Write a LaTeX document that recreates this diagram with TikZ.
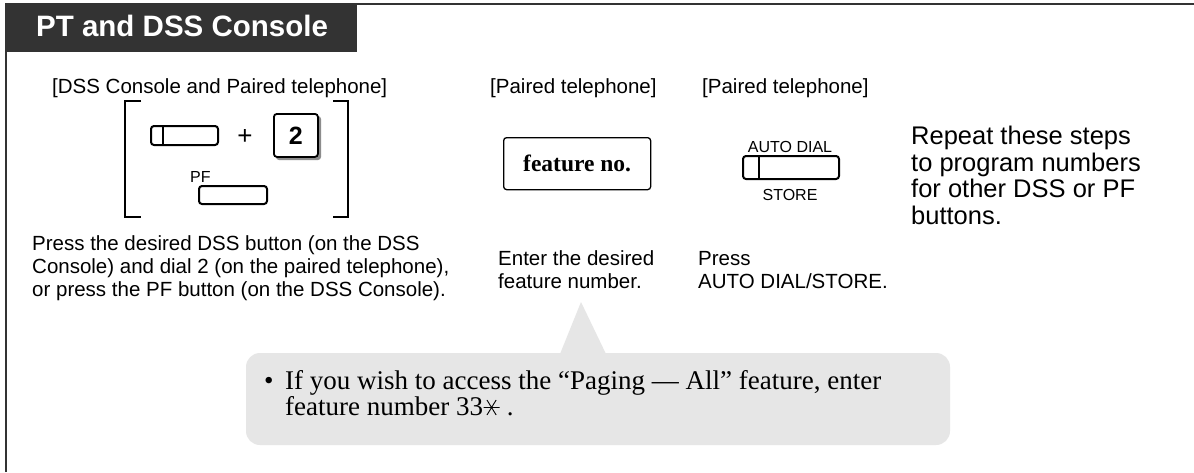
\documentclass[tikz,border=0pt]{standalone}
\usepackage{fontspec}
\setmainfont{Liberation Serif}
\setsansfont{Liberation Sans}
\definecolor{dark}{HTML}{333333}
\definecolor{callgray}{HTML}{E6E6E6}
\definecolor{shadowgray}{HTML}{8C8C8C}
\newcommand{\sixstar}{\tikz[x=1pt,y=1pt,baseline=0pt]{\path (-8,0) rectangle (8,16);\draw[line width=0.9pt] (-8,7.5) -- (8,7.5) (-4.6,0) -- (4.6,15) (-4.6,15) -- (4.6,0);}}
\begin{document}
\begin{tikzpicture}[x=1pt,y=-1pt,
  hdr/.style={inner sep=0pt, anchor=base west, font=\sffamily\fontsize{20.5}{23}\selectfont},
  body/.style={inner sep=0pt, anchor=base west, align=left, font=\sffamily\fontsize{20.5}{23}\selectfont},
  small/.style={inner sep=0pt, font=\sffamily\fontsize{16}{18}\selectfont},
  btn/.style={draw, line width=2pt, rounded corners=3pt, inner sep=0pt, anchor=north west},
  brk/.style={line width=1.3pt},
]
\useasboundingbox (0,0) rectangle (1194,472);
\fill[white] (0,0) rectangle (1194,472);
% frame and title bar
\draw[dark, line width=2pt] (6,472) -- (6,4) -- (1194,4);
\fill[dark] (5,3) rectangle (357,52);
\node[inner sep=0pt, anchor=base west, text=white, font=\sffamily\bfseries\fontsize{29.5}{32}\selectfont] (title) at (36,36) {PT and DSS Console};
% headers
\node[hdr] (h1) at (52,93) {[DSS Console and Paired telephone]};
\node[hdr] (h2) at (490,93) {[Paired telephone]};
\node[hdr] (h3) at (702,93) {[Paired telephone]};
% step 1 brackets and buttons
\draw[brk] (141,101) -- (125,101) -- (125,217) -- (141,217);
\draw[brk] (333,101) -- (348,101) -- (348,217) -- (333,217);
\node[btn, minimum width=67pt, minimum height=19pt] (dss) at (150,125) {};
\draw[line width=2pt] ([xshift=13pt]dss.north west) -- ([xshift=13pt]dss.south west);
\node[inner sep=0pt, font=\sffamily\fontsize{26}{28}\selectfont] (plus) at (245,137) {+};
\fill[shadowgray, rounded corners=3pt] (276,116) rectangle (321,160);
\node[btn, line width=1.8pt, fill=white, minimum width=44pt, minimum height=43pt, font=\sffamily\bfseries\fontsize{25}{27}\selectfont] (key) at (273,113) {2};
\node[small, anchor=base west] (pf) at (190,182) {PF};
\node[btn, minimum width=68pt, minimum height=18pt] (pfb) at (198,185) {};
% step 2
\node[draw, line width=1.3pt, rounded corners=3pt, inner sep=0pt, anchor=north west, minimum width=147pt, minimum height=52pt, font=\bfseries\fontsize{23.5}{25}\selectfont] (feat) at (503,137) {feature no.};
% step 3
\node[small, anchor=base] (ad) at (790,152) {AUTO DIAL};
\node[btn, minimum width=96pt, minimum height=23pt] (adb) at (742,155) {};
\draw[line width=2pt] ([xshift=17pt]adb.north west) -- ([xshift=17pt]adb.south west);
\node[small, anchor=base] (st) at (790,200) {STORE};
% repeat note (base = last line)
\node[inner sep=0pt, anchor=base west, align=left, font=\sffamily\fontsize{25.5}{26.5}\selectfont] (rep) at (911,224) {Repeat these steps\\to program numbers\\for other DSS or PF\\buttons.};
% descriptions (base = last line)
\node[body] (d1) at (32,296) {Press the desired DSS button (on the DSS\\Console) and dial 2 (on the paired telephone),\\or press the PF button (on the DSS Console).};
\node[body] (d2) at (498,288) {Enter the desired\\feature number.};
\node[body] (d3) at (698,288) {Press\\AUTO DIAL/STORE.};
% callout
\fill[callgray] (560,354) -- (581,302) -- (606,354) -- cycle;
\fill[callgray, rounded corners=14pt] (246,353) rectangle (950,445);
\node[inner sep=0pt, anchor=base west, font=\fontsize{27}{27}\selectfont] (bul) at (264,389) {\textbullet};
\node[inner sep=0pt, anchor=base west, align=left, font=\fontsize{27}{26}\selectfont] (note) at (285,415) {If you wish to access the “Paging — All” feature, enter\\feature number 33\sixstar\ .};
\end{tikzpicture}
\end{document}
